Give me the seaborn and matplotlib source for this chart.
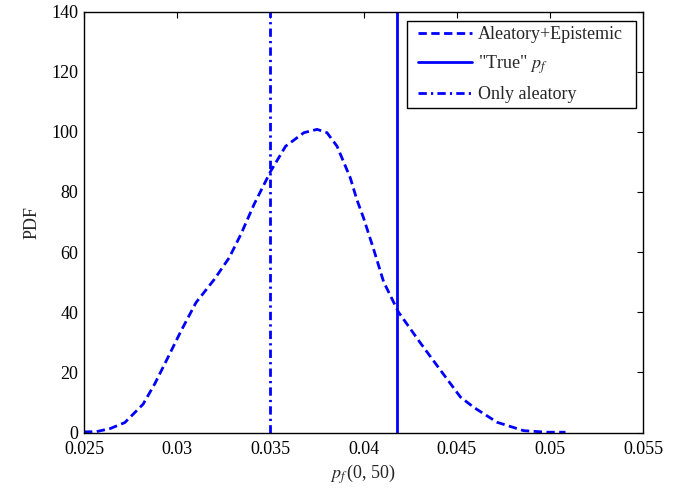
import matplotlib
matplotlib.use("Agg")
import matplotlib.pyplot as plt
import seaborn as sns
from matplotlib.lines import Line2D
from matplotlib.legend_handler import HandlerLine2D

# Data
pf_x = [0.02500, 0.02568, 0.02640, 0.02719, 0.02817, 0.02879, 0.02950, 0.03021,
        0.03101, 0.03199, 0.03279, 0.03342, 0.03413, 0.03502, 0.03582, 0.03680,
        0.03751, 0.03804, 0.03858, 0.03929, 0.03964, 0.04000, 0.04054, 0.04108,
        0.04188, 0.04305, 0.04412, 0.04520, 0.04591, 0.04717, 0.04860, 0.04986,
        0.05084]
pdf_y = [0.2, 0.3, 1.3, 3.3, 9.4, 16.1, 24.9, 33.8,
         43.2, 50.9, 58.1, 65.9, 75.9, 86.9, 95.2, 99.7,
         100.8, 99.7, 95.2, 84.7, 77.5, 71.4, 61.0, 50.1,
         40.0, 29.8, 20.8, 11.8, 8.4, 3.4, 0.6, 0.1,
         0.1]
true_pf = 0.0418
only_aleatory = 0.0350
labels = ["Aleatory+Epistemic", "\"True\" $p_f$", "Only aleatory"]
xticks = [0.025, 0.03, 0.035, 0.04, 0.045, 0.05, 0.055]
xticklabels = ["0.025", "0.03", "0.035", "0.04", "0.045", "0.05", "0.055"]
yticks = [0, 20, 40, 60, 80, 100, 120, 140]

sns.set_theme(style="white")
plt.rcParams["font.family"] = ["Liberation Serif", "DejaVu Serif"]
plt.rcParams["mathtext.fontset"] = "stix"
plt.rcParams["font.size"] = 13

W, H = 677, 490
L, R, T, B = 84, 643, 11.5, 432.5
fig = plt.figure(figsize=(W / 100, H / 100), dpi=100)
ax = fig.add_axes([L / W, 1 - B / H, (R - L) / W, (B - T) / H])

blue = "#0000ff"
sns.lineplot(x=pf_x, y=pdf_y, ax=ax, sort=False, color=blue, linewidth=2.0,
             label=labels[0])
ax.lines[-1].set_dashes([3.0, 1.6])
ax.axvline(true_pf, color=blue, linewidth=2.0, linestyle="-", label=labels[1])
ax.axvline(only_aleatory, color=blue, linewidth=2.0, label=labels[2],
           dashes=[3.0, 1.5, 0.8, 1.5])

ax.set_xlim(0.025, 0.055)
ax.set_ylim(0, 140)
ax.set_xticks(xticks)
ax.set_xticklabels(xticklabels)
ax.set_yticks(yticks)
ax.tick_params(direction="in", length=4.3, width=0.8, top=True, right=True,
               labelsize=13, colors="black")
ax.tick_params(axis="x", pad=6.3)
ax.tick_params(axis="y", pad=4)
for s in ax.spines.values():
    s.set_color("black")
    s.set_linewidth(1.0)
    s.set_visible(True)

ax.set_xlabel("$p_f\\,$(0, 50)", fontsize=13, labelpad=3)
ax.set_ylabel("PDF", fontsize=13, labelpad=8)

aw, ah = R - L, B - T
lx0 = (407 - L) / aw
lx1 = (636 - L) / aw
ly1 = 1 - (20.7 - T) / ah
fs_px = 13 * 100 / 72
leg = ax.legend(loc="upper left", bbox_to_anchor=(lx0, 0.5, lx1 - lx0, ly1 - 0.5),
                mode="expand", borderaxespad=0, fontsize=13, frameon=True,
                fancybox=False, edgecolor="black", framealpha=1,
                handlelength=3.3, borderpad=0.3, labelspacing=0.56,
                handletextpad=0.33,
                handler_map={Line2D: HandlerLine2D(xpad=0.3)})
leg.get_frame().set_linewidth(1.0)

fig.savefig("out.png", dpi=100)
